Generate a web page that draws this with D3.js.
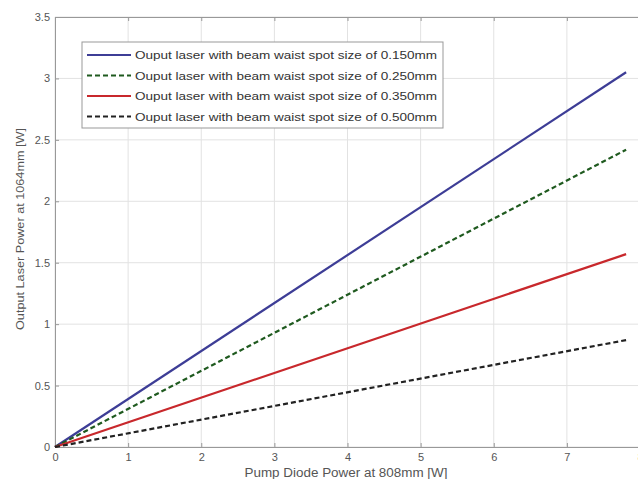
<!DOCTYPE html>
<html>
<head>
<meta charset="utf-8">
<script src="https://cdn.jsdelivr.net/npm/d3@7"></script>
<style>
body { margin: 0; background: #fff; }
text { font-family: "Liberation Sans", Arial, sans-serif; }
</style>
</head>
<body>
<div id="chart"></div>
<script>
var pumpPower = [0, 7.81]
var spotSizes = ["0.150mm", "0.250mm", "0.350mm", "0.500mm"]
var outputPower = [
    [0, 3.05],
    [0, 2.42],
    [0, 1.57],
    [0, 0.87]
]
var lineColors = ["#3d3d96", "#1f5a1f", "#c8282c", "#222222"]
var lineDash = [null, "5,3", null, "5,3"]
var xTicks = [0, 1, 2, 3, 4, 5, 6, 7, 8]
var yTicks = [0, 0.5, 1, 1.5, 2, 2.5, 3, 3.5]

var width = 638
var height = 479
var svg = d3.select("#chart").append("svg").attr("width", width).attr("height", height)

var x = d3.scaleLinear().domain([0, 8]).range([55, 640])
var y = d3.scaleLinear().domain([0, 3.5]).range([447, 17])

// grid
svg.append("g").selectAll("line").data(xTicks).enter().append("line")
    .attr("x1", function(d) { return x(d) }).attr("x2", function(d) { return x(d) })
    .attr("y1", y(0)).attr("y2", y(3.5))
    .attr("stroke", "#e2e2e2").attr("stroke-width", 1)
svg.append("g").selectAll("line").data(yTicks).enter().append("line")
    .attr("x1", x(0)).attr("x2", x(8))
    .attr("y1", function(d) { return y(d) }).attr("y2", function(d) { return y(d) })
    .attr("stroke", "#e2e2e2").attr("stroke-width", 1)

// axes
svg.append("g").attr("transform", "translate(0," + y(0) + ")")
    .call(d3.axisBottom(x).tickValues(xTicks).tickSize(-4).tickPadding(6).tickFormat(d3.format("d")))
svg.append("g").attr("transform", "translate(" + x(0) + ",0)")
    .call(d3.axisLeft(y).tickValues(yTicks).tickSize(-4).tickPadding(5).tickFormat(function(d) { return d }))
svg.append("g").attr("transform", "translate(0," + y(3.5) + ")")
    .call(d3.axisTop(x).tickValues(xTicks).tickSize(-4).tickFormat(""))
svg.selectAll(".domain").attr("stroke", "#999")
svg.selectAll(".tick line").attr("stroke", "#999")
svg.selectAll(".tick text").attr("fill", "#555").style("font-size", "11px")

// axis labels
svg.append("text").attr("x", 346).attr("y", 477).attr("text-anchor", "middle")
    .attr("textLength", 203).attr("lengthAdjust", "spacingAndGlyphs")
    .style("font-size", "12px").attr("fill", "#555").text("Pump Diode Power at 808mm [W]")
svg.append("text").attr("transform", "translate(24,229) rotate(-90)").attr("text-anchor", "middle")
    .attr("textLength", 202).attr("lengthAdjust", "spacingAndGlyphs")
    .style("font-size", "11.5px").attr("fill", "#555").text("Output Laser Power at 1064mm [W]")

// lines
var line = d3.line()
    .x(function(d, i) { return x(pumpPower[i]) })
    .y(function(d) { return y(d) })
svg.append("g").selectAll("path").data(outputPower).enter().append("path")
    .attr("d", line)
    .attr("fill", "none")
    .attr("stroke", function(d, i) { return lineColors[i] })
    .attr("stroke-width", 2.2)
    .attr("stroke-dasharray", function(d, i) { return lineDash[i] })

// legend
var legend = svg.append("g")
legend.append("rect").attr("x", 82).attr("y", 42).attr("width", 361).attr("height", 86)
    .attr("fill", "#fff").attr("stroke", "#999").attr("stroke-width", 1)
var rows = legend.selectAll(".row").data(spotSizes).enter().append("g")
    .attr("class", "row")
    .attr("transform", function(d, i) { return "translate(0," + (55 + i * 20.5) + ")" })
rows.append("line").attr("x1", 87).attr("x2", 131).attr("y1", 0).attr("y2", 0)
    .attr("stroke", function(d, i) { return lineColors[i] })
    .attr("stroke-width", 2.2)
    .attr("stroke-dasharray", function(d, i) { return lineDash[i] })
rows.append("text").attr("x", 135).attr("y", 4)
    .attr("textLength", 302).attr("lengthAdjust", "spacingAndGlyphs")
    .style("font-size", "11.5px").attr("fill", "#333")
    .text(function(d) { return "Ouput laser with beam waist spot size of " + d })
</script>
</body>
</html>
